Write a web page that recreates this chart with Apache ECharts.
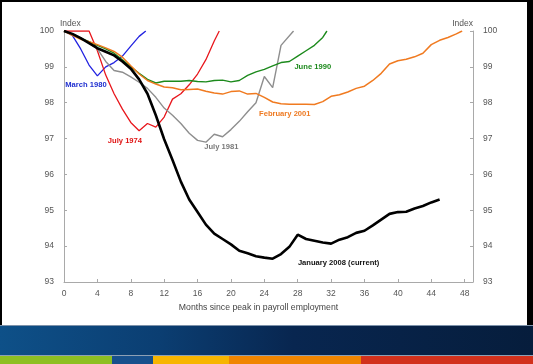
<!DOCTYPE html>
<html>
<head>
<meta charset="utf-8">
<script src="https://cdn.jsdelivr.net/npm/echarts@6/dist/echarts.min.js"></script>
<style>
html,body{margin:0;padding:0;background:#fff;}
#chart{width:533px;height:364px;}
</style>
</head>
<body>
<div id="chart"></div>
<script>
// ---- data: [months since peak, index] ----
const xTicks = [0,4,8,12,16,20,24,28,32,36,40,44,48];
const yTicks = [93,94,95,96,97,98,99,100];

const jul1974 = [[0,100],[1,100],[2,100],[3,100],[4,99.45],[5,98.77],[6,98.25],[7,97.82],[8,97.45],[9,97.22],[10,97.42],[11,97.32],[12,97.6],[13,98.1],[14,98.25],[15,98.5],[16,98.8],[17,99.2],[18,99.72],[18.6,100]];
const mar1980 = [[0,100],[1,99.88],[2,99.5],[3,99.05],[4,98.75],[5,99.0],[6,99.12],[7,99.3],[8,99.58],[9,99.85],[9.8,100]];
const jul1981 = [[0,100],[1,99.92],[2,99.8],[3,99.66],[4,99.5],[5,99.15],[6,98.9],[7,98.85],[8,98.72],[9,98.57],[10,98.4],[11,98.15],[12,97.85],[13,97.65],[14,97.42],[15,97.15],[16,96.95],[17,96.9],[18,97.12],[19,97.05],[20,97.25],[21,97.48],[22,97.75],[23,98.0],[24,98.73],[25,98.42],[26,99.6],[27.5,100]];
const jun1990 = [[0,100],[1,99.9],[2,99.8],[3,99.7],[4,99.6],[5,99.5],[6,99.38],[7,99.2],[8,99.0],[9,98.82],[10,98.65],[11,98.55],[12,98.6],[13,98.6],[14,98.6],[15,98.62],[16,98.59],[17,98.58],[18,98.62],[19,98.63],[20,98.58],[21,98.62],[22,98.76],[23,98.86],[24,98.93],[25,99.03],[26,99.12],[27,99.15],[28,99.3],[29,99.45],[30,99.6],[31,99.82],[31.5,100]];
const feb2001 = [[0,100],[1,99.88],[2,99.77],[3,99.7],[4,99.62],[5,99.53],[6,99.43],[7,99.27],[8,99.03],[9,98.8],[10,98.62],[11,98.52],[12,98.44],[13,98.42],[14,98.36],[15,98.37],[16,98.38],[17,98.32],[18,98.27],[19,98.24],[20,98.31],[21,98.33],[22,98.24],[23,98.26],[24,98.15],[25,98.02],[26,97.97],[27,97.96],[28,97.96],[29,97.96],[30,97.95],[31,98.03],[32,98.18],[33,98.22],[34,98.3],[35,98.4],[36,98.46],[37,98.62],[38,98.82],[39,99.08],[40,99.17],[41,99.21],[42,99.28],[43,99.38],[44,99.62],[45,99.74],[46,99.82],[47,99.92],[47.7,100]];
const jan2008 = [[0,100],[1,99.92],[2,99.8],[3,99.66],[4,99.52],[5,99.42],[6,99.32],[7,99.15],[8,98.95],[9,98.65],[10,98.25],[11,97.65],[12,96.98],[13,96.4],[14,95.8],[15,95.3],[16,94.95],[17,94.6],[18,94.35],[19,94.2],[20,94.05],[21,93.87],[22,93.8],[23,93.72],[24,93.68],[25,93.65],[26,93.78],[27,93.98],[28,94.32],[29,94.2],[30,94.15],[31,94.1],[32,94.07],[33,94.18],[34,94.25],[35,94.37],[36,94.43],[37,94.58],[38,94.74],[39,94.9],[40,94.95],[41,94.96],[42,95.05],[43,95.12],[44,95.22],[45,95.3]];

// label anchors in data units
const labelSpecs = [
  {name:'March 1980', at:[2.63,98.49]},
  {name:'July 1974', at:[7.3,96.93]},
  {name:'July 1981', at:[18.85,96.77]},
  {name:'June 1990', at:[29.8,99.0]},
  {name:'February 2001', at:[26.45,97.70]},
  {name:'January 2008 (current)', at:[32.9,93.54]}
];

const FONT = '"Liberation Sans", Arial, sans-serif';
const axisGray = '#a9a9a9';
const textGray = '#555';

function mkSeries(data, color, width, labelIdx, labelColor){
  const s = labelSpecs[labelIdx];
  return {
    type:'line', data:data, showSymbol:false, symbol:'none', smooth:false,
    lineStyle:{color:color,width:width}, itemStyle:{color:color},
    animation:false, silent:true,
    markPoint:{
      symbol:'circle', symbolSize:1, silent:true, animation:false,
      itemStyle:{color:'rgba(0,0,0,0)'},
      label:{show:true, position:'inside', formatter:s.name, color:labelColor,
             fontFamily:FONT, fontWeight:'bold', fontSize:7.6},
      data:[{coord:s.at}]
    }
  };
}

const chart = echarts.init(document.getElementById('chart'), null, {renderer:'canvas'});
const yAxisCommon = {
  type:'value', min:93, max:100, interval:1,
  axisLine:{show:true, lineStyle:{color:axisGray, width:1}},
  axisTick:{show:true, inside:true, length:3, lineStyle:{color:axisGray}},
  splitLine:{show:false},
  axisLabel:{color:textGray, fontFamily:FONT, fontSize:8.5, margin:10},
  name:'Index', nameLocation:'end', nameGap:3,
  nameTextStyle:{color:textGray, fontFamily:FONT, fontSize:8.5}
};
chart.setOption({
  backgroundColor:'#fff',
  animation:false,
  grid:{left:64, right:60, top:31, bottom:82, containLabel:false},
  xAxis:{
    type:'value', min:0, max:49, interval:4,
    axisLine:{show:true, onZero:false, lineStyle:{color:axisGray, width:1}},
    axisTick:{show:true, inside:true, length:3, lineStyle:{color:axisGray}},
    splitLine:{show:false},
    axisLabel:{color:textGray, fontFamily:FONT, fontSize:8.5, margin:7, showMaxLabel:false,
      formatter:function(v){return xTicks.indexOf(v)>=0 ? String(v) : '';}},
    name:'Months since peak in payroll employment', nameLocation:'middle', nameGap:15,
    nameTextStyle:{color:'#444', fontFamily:FONT, fontSize:8.7, padding:[0,20,0,0]}
  },
  yAxis:[
    Object.assign({}, yAxisCommon, {position:'left',
      nameTextStyle:Object.assign({}, yAxisCommon.nameTextStyle, {align:'left', padding:[0,0,0,-4]})}),
    Object.assign({}, yAxisCommon, {position:'right',
      nameTextStyle:Object.assign({}, yAxisCommon.nameTextStyle, {align:'right', padding:[0,0,0,0]})})
  ],
  series:[
    mkSeries(mar1980,'#2222e0',1.3,0,'#1f2fd0'),
    mkSeries(jul1974,'#e8161c',1.3,1,'#e01414'),
    mkSeries(jul1981,'#8e8e8e',1.4,2,'#7a7a7a'),
    mkSeries(jun1990,'#1c8a1c',1.4,3,'#1d8a1d'),
    mkSeries(feb2001,'#f07a20',1.5,4,'#ee7a22'),
    mkSeries(jan2008,'#000000',2.6,5,'#111111')
  ],
  graphic:[
    {type:'rect', left:0, top:0, shape:{width:533,height:2}, style:{fill:'#000'}, silent:true},
    {type:'rect', left:0, top:0, shape:{width:2,height:326}, style:{fill:'#000'}, silent:true},
    {type:'rect', left:527, top:0, shape:{width:6,height:326}, style:{fill:'#000'}, silent:true},
    {type:'rect', left:0, top:326, shape:{width:533,height:30},
      style:{fill:new echarts.graphic.LinearGradient(0,0,1,0,[
        {offset:0,color:'#0e5088'},{offset:0.3,color:'#0b3e72'},
        {offset:0.55,color:'#082650'},{offset:1,color:'#061d3c'}])}, silent:true},
    {type:'rect', left:0, top:325, shape:{width:533,height:1}, style:{fill:'#7d92aa'}, silent:true},
    {type:'rect', left:0, top:355, shape:{width:533,height:1}, style:{fill:'#8da0b5'}, silent:true},
    {type:'rect', left:0, top:356, shape:{width:112,height:8}, style:{fill:'#8dbf22'}, silent:true},
    {type:'rect', left:112, top:356, shape:{width:41,height:8}, style:{fill:'#17508c'}, silent:true},
    {type:'rect', left:153, top:356, shape:{width:76,height:8}, style:{fill:'#f7b500'}, silent:true},
    {type:'rect', left:229, top:356, shape:{width:132,height:8}, style:{fill:'#f08500'}, silent:true},
    {type:'rect', left:361, top:356, shape:{width:172,height:8}, style:{fill:'#d2311c'}, silent:true}
  ]
});
</script>
</body>
</html>
